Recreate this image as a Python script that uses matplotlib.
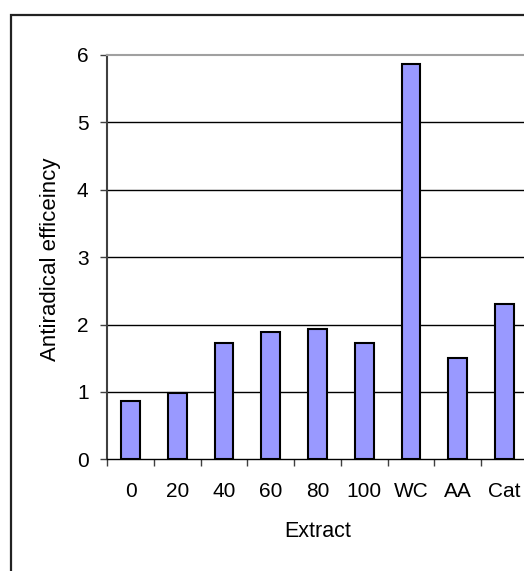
import numpy as np
import matplotlib
matplotlib.use("Agg")
import matplotlib.pyplot as plt
from matplotlib.patches import Rectangle

plt.rcParams['font.family'] = ['Liberation Sans', 'DejaVu Sans']

# antiradical efficiency per extract
extracts = ['0', '20', '40', '60', '80', '100', 'WC', 'AA', 'Cat']
efficiency = [0.86, 0.98, 1.72, 1.89, 1.93, 1.72, 5.87, 1.51, 2.31]
y_ticks = [0, 1, 2, 3, 4, 5, 6]

W, H = 524, 571
FS = 15
fig = plt.figure(figsize=(W / 100, H / 100), dpi=100)

# chart area border (runs off the right and bottom edges)
fig.patches.append(Rectangle((11 / W, -0.2), 1.2, 1.2 - 15 / H,
                             transform=fig.transFigure, fill=False,
                             edgecolor='#222222', lw=1.6))

left, bottom = 107.3, 111.7
ax = fig.add_axes([left / W, bottom / H, 420.4 / W, 404.3 / H])

x = np.arange(len(extracts))
ax.bar(x, efficiency, width=0.4, color='#9999FF', edgecolor='black',
       linewidth=1.5, zorder=3)

ax.set_xlim(-0.5, len(extracts) - 0.5)
ax.set_ylim(0, 6)

for v in y_ticks[1:-1]:
    ax.axhline(v, color='black', lw=1, zorder=1)

for side in ['top', 'right']:
    ax.spines[side].set_color('#a0a0a0')
    ax.spines[side].set_linewidth(1.5)
ax.spines['left'].set_color('#404040')
ax.spines['left'].set_linewidth(1.5)
ax.spines['bottom'].set_color('black')
ax.spines['bottom'].set_linewidth(1)

ax.set_yticks(y_ticks)
ax.set_yticklabels([str(v) for v in y_ticks])
ax.tick_params(axis='y', direction='out', length=5, width=1, color='#404040',
               pad=8.5, labelsize=FS)

ax.set_xticks(x)
ax.set_xticklabels(extracts)
ax.set_xticks(np.arange(-0.5, len(extracts)), minor=True)
ax.tick_params(axis='x', which='major', length=0, pad=16, labelsize=FS)
ax.tick_params(axis='x', which='minor', direction='out', length=5, width=1,
               color='#404040')

ax.set_xlabel('Extract', fontsize=15.5)
ax.xaxis.label.set_va('center')
ax.xaxis.set_label_coords(0.5, -(531.7 - 459.3) / 404.3)

fig.text(51 / W, 1 - 259 / H, 'Antiradical efficeincy', rotation=90,
         ha='center', va='center', fontsize=16)

fig.savefig('out.png', dpi=100)
